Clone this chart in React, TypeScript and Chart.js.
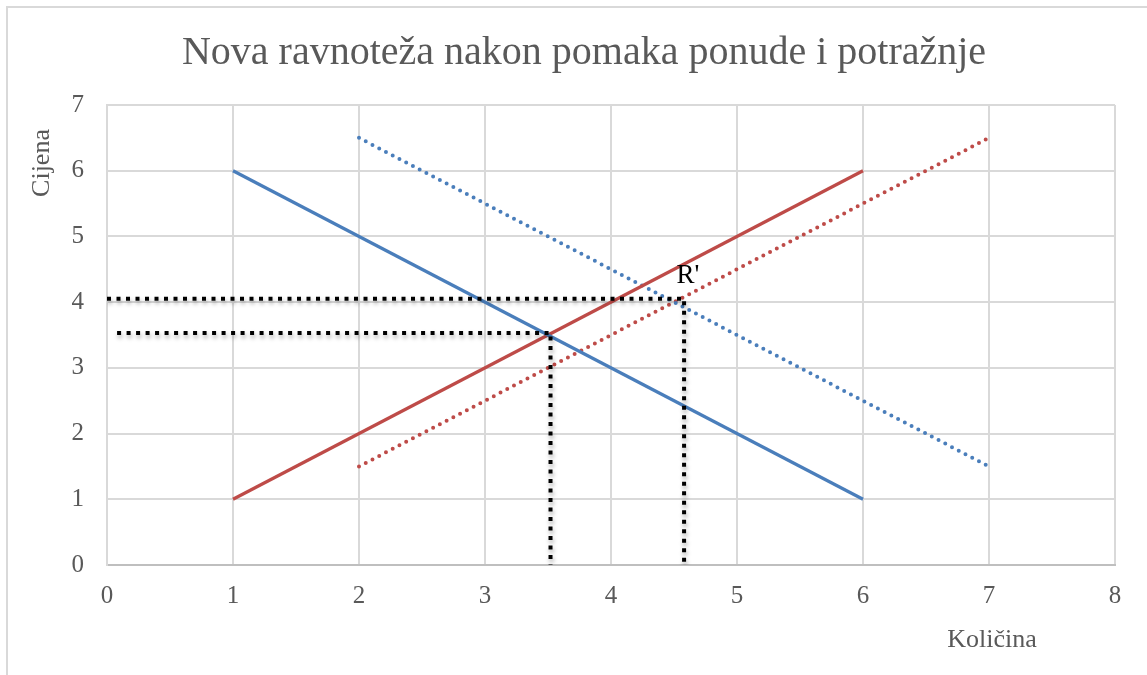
import React, { useEffect, useRef } from "react";
import { Chart, registerables } from "chart.js";
Chart.register(...registerables);

const FONT = '"Liberation Serif", serif';
const TEXT_GRAY = "#595959";

const titleText = "Nova ravnoteža nakon pomaka ponude i potražnje";
const xTitle = "Količina";
const yTitle = "Cijena";

const xMin = 0, xMax = 8;
const yMin = 0, yMax = 7;

// Original demand (blue solid) and supply (red solid)
const demandQ = [1, 6];
const demandP = [6, 1];
const supplyQ = [1, 6];
const supplyP = [1, 6];
// Shifted demand (blue dotted) and supply (red dotted)
const newDemandQ = [2, 7];
const newDemandP = [6.5, 1.5];
const newSupplyQ = [2, 7];
const newSupplyP = [1.5, 6.5];
// Guide lines (black dotted)
const newEqGuideQ = [0, 4.58, 4.58];
const newEqGuideP = [4.05, 4.05, 0];
const oldEqGuideQ = [0.08, 3.52, 3.52];
const oldEqGuideP = [3.53, 3.53, 0];
// Label R'
const labelText = "R'";
const labelQ = 4.61;
const labelP = 4.4;

const pts = (xs: number[], ys: number[]) => xs.map((x, i) => ({ x, y: ys[i] }));

const decor = {
  id: "decor",
  beforeDraw(chart: any) {
    const ctx = chart.ctx;
    ctx.save();
    ctx.fillStyle = "#ffffff";
    ctx.fillRect(0, 0, chart.width, chart.height);
    ctx.strokeStyle = "#d9d9d9";
    ctx.lineWidth = 2;
    ctx.strokeRect(7, 7, chart.width + 20, chart.height + 20);
    ctx.restore();
  },
  afterDraw(chart: any) {
    const ctx = chart.ctx;
    ctx.save();
    ctx.fillStyle = TEXT_GRAY;
    ctx.textAlign = "center";
    ctx.textBaseline = "alphabetic";
    ctx.font = `40px ${FONT}`;
    ctx.fillText(titleText, 584, 64);
    ctx.font = `26px ${FONT}`;
    ctx.fillText(xTitle, 992, 647);
    ctx.save();
    ctx.translate(49, 163);
    ctx.rotate(-Math.PI / 2);
    ctx.fillText(yTitle, 0, 0);
    ctx.restore();
    const xs = chart.scales.x, ys = chart.scales.y;
    ctx.fillStyle = "#000000";
    ctx.font = `27px ${FONT}`;
    ctx.textBaseline = "middle";
    ctx.fillText(labelText, xs.getPixelForValue(labelQ), ys.getPixelForValue(labelP));
    ctx.restore();
  },
};

const shadow = {
  id: "guideShadow",
  beforeDatasetDraw(chart: any, args: any) {
    const ds = chart.data.datasets[args.index];
    if (ds.label && ds.label.startsWith("guide")) {
      const ctx = chart.ctx;
      ctx.save();
      ctx.shadowColor = "rgba(0,0,0,0.35)";
      ctx.shadowBlur = 4;
      ctx.shadowOffsetY = 3;
      ctx.shadowOffsetX = 1;
    }
  },
  afterDatasetDraw(chart: any, args: any) {
    const ds = chart.data.datasets[args.index];
    if (ds.label && ds.label.startsWith("guide")) {
      chart.ctx.restore();
    }
  },
};

export default function App() {
  const ref = useRef<HTMLCanvasElement>(null);
  useEffect(() => {
    document.body.style.margin = "0";
    const blue = "#4a7ebb";
    const red = "#be4b48";
    const chart = new Chart(ref.current as HTMLCanvasElement, {
      type: "scatter",
      data: {
        datasets: [
          {
            label: "guide-new",
            data: pts(newEqGuideQ, newEqGuideP),
            showLine: true,
            borderColor: "#000000",
            borderWidth: 4,
            borderDash: [4, 5.5],
            borderCapStyle: "butt",
            pointRadius: 0,
          },
          {
            label: "guide-old",
            data: pts(oldEqGuideQ, oldEqGuideP),
            showLine: true,
            borderColor: "#000000",
            borderWidth: 4,
            borderDash: [4, 5.5],
            borderCapStyle: "butt",
            pointRadius: 0,
          },
          {
            label: "demand",
            data: pts(demandQ, demandP),
            showLine: true,
            borderColor: blue,
            borderWidth: 3.2,
            pointRadius: 0,
          },
          {
            label: "supply",
            data: pts(supplyQ, supplyP),
            showLine: true,
            borderColor: red,
            borderWidth: 3.2,
            pointRadius: 0,
          },
          {
            label: "newDemand",
            data: pts(newDemandQ, newDemandP),
            showLine: true,
            borderColor: blue,
            borderWidth: 4,
            borderDash: [0, 7.6],
            borderCapStyle: "round",
            pointRadius: 0,
          },
          {
            label: "newSupply",
            data: pts(newSupplyQ, newSupplyP),
            showLine: true,
            borderColor: red,
            borderWidth: 4,
            borderDash: [0, 7.6],
            borderCapStyle: "round",
            pointRadius: 0,
          },
        ],
      } as any,
      options: {
        responsive: false,
        devicePixelRatio: 1,
        animation: false,
        layout: { padding: { left: 0, top: 105, right: 32, bottom: 0 } },
        plugins: {
          legend: { display: false },
          tooltip: { enabled: false },
          title: { display: false },
        },
        scales: {
          x: {
            type: "linear",
            min: xMin,
            max: xMax,
            ticks: {
              stepSize: 1,
              color: TEXT_GRAY,
              font: { family: FONT, size: 25 },
              padding: 16,
            },
            grid: { color: "#d9d9d9", lineWidth: 2, drawTicks: false },
            border: { color: "#bfbfbf", width: 2 },
            afterFit(scale: any) {
              scale.height = 110;
            },
          },
          y: {
            type: "linear",
            min: yMin,
            max: yMax,
            ticks: {
              stepSize: 1,
              color: TEXT_GRAY,
              font: { family: FONT, size: 25 },
              padding: 23,
            },
            grid: { color: "#d9d9d9", lineWidth: 2, drawTicks: false },
            border: { color: "#d9d9d9", width: 2 },
            afterFit(scale: any) {
              scale.width = 107;
            },
          },
        },
      } as any,
      plugins: [decor, shadow],
    });
    return () => chart.destroy();
  }, []);
  return (
    <div style={{ width: 1147, height: 675, background: "#fff" }}>
      <canvas ref={ref} width={1147} height={675} style={{ display: "block" }} />
    </div>
  );
}
